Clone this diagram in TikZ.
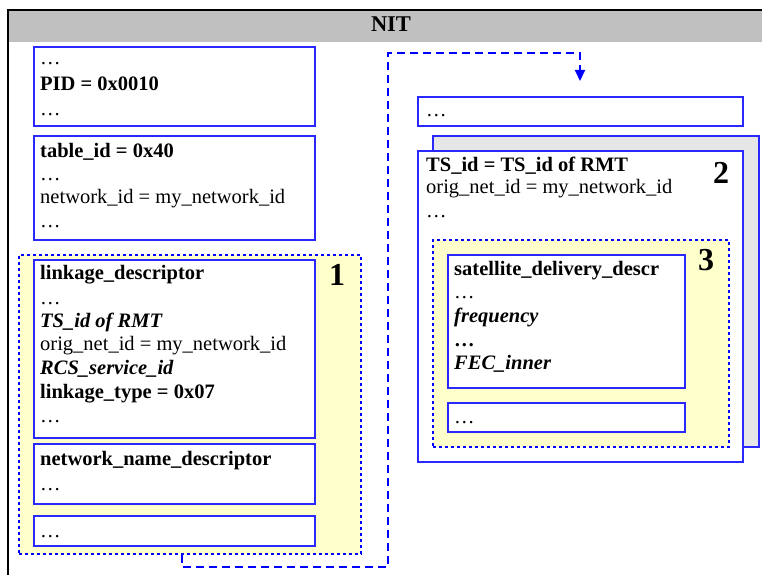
\documentclass[tikz,border=0pt]{standalone}
\usepackage{fontspec}
\setmainfont{Liberation Serif}
\usetikzlibrary{arrows.meta,fit}
\definecolor{boxblue}{RGB}{40,40,255}
\definecolor{paleyellow}{RGB}{255,255,204}
\definecolor{shadowgray}{RGB}{230,230,230}
\definecolor{headgray}{RGB}{192,192,192}
\newcommand{\fieldline}[4]{\node[txt] (#1) at (#2,#3) {#4};}
\begin{document}
\begin{tikzpicture}[x=1pt,y=-1pt,
  field/.style={draw=boxblue,line width=1.6pt,fill=white,inner sep=0pt},
  shadowbox/.style={field,fill=shadowgray},
  group/.style={draw=blue,line width=2.6pt,dash pattern=on 2.6pt off 3.4pt,fill=paleyellow,inner sep=0pt},
  txt/.style={anchor=base west,inner sep=0pt,font=\fontsize{20.5}{24}\selectfont},
  num/.style={anchor=base,inner sep=0pt,font=\fontsize{32}{32}\selectfont\bfseries},
  title/.style={anchor=base,inner sep=0pt,font=\fontsize{22.5}{24}\selectfont\bfseries},
  link/.style={draw=blue,line width=2pt,dash pattern=on 8pt off 5pt,-{Triangle[length=11pt,width=10pt]}}]
\useasboundingbox (0,0) rectangle (762,575);

% table frame with its header band
\fill[headgray] (8,10) rectangle (762,42);
\draw[line width=1.6pt] (762,10) -- (8,10) -- (8,575);
\node[title] (nit) at (391,32) {NIT};

% ---- left column: NIT fields ----
\node[field,fit={(34,47) (315,126)}] (pidbox) {};
\fieldline{p1}{40}{65}{…}
\fieldline{p2}{40}{91}{\bfseries PID = 0x0010}
\fieldline{p3}{40}{116}{…}

\node[field,fit={(34,136) (315,240)}] (tabbox) {};
\fieldline{t1}{40}{157}{\bfseries table\_id = 0x40}
\fieldline{t2}{40}{180}{…}
\fieldline{t3}{40}{203}{network\_id = my\_network\_id}
\fieldline{t4}{40}{227}{…}

\node[group,fit={(19,255) (361,554)}] (grp1) {};
\node[num] (n1) at (337,285) {1};

\node[field,fit={(34,260) (315,438)}] (linkbox) {};
\fieldline{l1}{40}{279}{\bfseries linkage\_descriptor}
\fieldline{l2}{40}{304}{…}
\fieldline{l3}{40}{327}{\bfseries\itshape TS\_id of RMT}
\fieldline{l4}{40}{350}{orig\_net\_id = my\_network\_id}
\fieldline{l5}{40}{374}{\bfseries\itshape RCS\_service\_id}
\fieldline{l6}{40}{398}{\bfseries linkage\_type = 0x07}
\fieldline{l7}{40}{422}{…}

\node[field,fit={(34,444) (315,504)}] (namebox) {};
\fieldline{m1}{40}{465}{\bfseries network\_name\_descriptor}
\fieldline{m2}{40}{490}{…}

\node[field,fit={(34,516) (315,546)}] (restbox) {};
\fieldline{r1}{40}{537}{…}

% ---- right column: transport stream loop ----
\node[field,fit={(418,97) (743,126)}] (tsfirst) {};
\fieldline{f1}{426}{117}{…}

\node[shadowbox,fit={(433,136) (759,447)}] (tsback) {};
\node[field,fit={(418,151) (743,462)}] (tsbox) {};
\node[num] (n2) at (721,183) {2};
\fieldline{s1}{426}{171}{\bfseries TS\_id = TS\_id of RMT}
\fieldline{s2}{426}{193}{orig\_net\_id = my\_network\_id}
\fieldline{s3}{426}{217}{…}

\node[group,fit={(433,240) (729,447)}] (grp3) {};
\node[num] (n3) at (706,270) {3};

\node[field,fit={(448,255) (685,388)}] (satbox) {};
\fieldline{d1}{454}{275}{\bfseries satellite\_delivery\_descr}
\fieldline{d2}{454}{298}{…}
\fieldline{d3}{454}{322}{\bfseries\itshape frequency}
\fieldline{d4}{454}{346}{\bfseries …}
\fieldline{d5}{454}{369}{\bfseries\itshape FEC\_inner}

\node[field,fit={(448,403) (685,432)}] (satrest) {};
\fieldline{e1}{454}{423}{…}

% ---- reference from the linkage group to the transport stream ----
\coordinate (linkx) at (182,0);
\coordinate (c1) at (182,567);
\coordinate (c2) at (388,567);
\coordinate (c3) at (388,53);
\coordinate (c4) at (580,53);
\coordinate (tip) at (580,81);
\draw[link] (grp1.south -| linkx) -- (c1) -- (c2) -- (c3) -- (c4) -- (tip);
\end{tikzpicture}
\end{document}
